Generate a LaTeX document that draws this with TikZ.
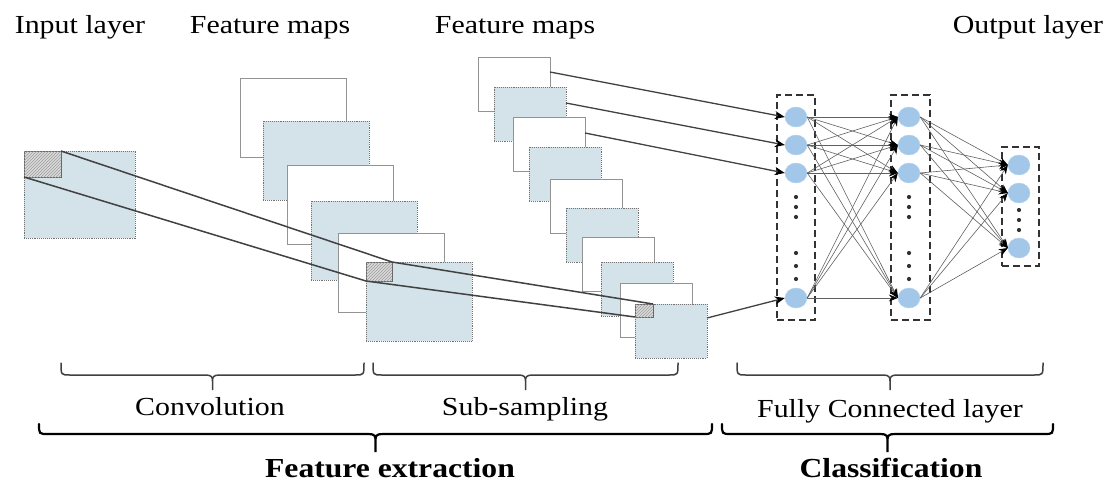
\documentclass[tikz,border=0pt]{standalone}
\usepackage{fontspec}
\setmainfont[FakeStretch=1.15]{Liberation Serif}
\usetikzlibrary{arrows.meta,patterns,shapes.geometric}
\definecolor{mapblue}{RGB}{212,226,233}
\definecolor{nodeblue}{RGB}{163,199,232}
\definecolor{linegray}{RGB}{65,65,65}
% custom brace: #1 style, #2 x-left, #3 x-right, #4 y tips, #5 y line, #6 y cusp
\newcommand\cnnbrace[6]{%
  \pgfmathsetmacro\bc{(#2+#3)/2}%
  \draw[#1] (#2,-#4) .. controls (#2,-#5) and (#2,-#5) .. (#2+9,-#5)
     -- (\bc-7,-#5) .. controls (\bc-1,-#5) and (\bc,-#5-2) .. (\bc,-#5-6)
     -- (\bc,-#6) -- (\bc,-#5-6)
     .. controls (\bc,-#5-2) and (\bc+1,-#5) .. (\bc+7,-#5)
     -- (#3-9,-#5) .. controls (#3,-#5) and (#3,-#5) .. (#3,-#4);%
}
\begin{document}
\begin{tikzpicture}[x=1pt,y=1pt,
  whitemap/.style={draw=gray!85, line width=0.9pt, fill=white, anchor=north west, inner sep=0pt, outer sep=0pt},
  bluemap/.style={draw=gray!90!black, densely dotted, line width=0.9pt, fill=mapblue, anchor=north west, inner sep=0pt, outer sep=0pt},
  convsize/.style={minimum width=106pt, minimum height=79pt},
  subsize/.style={minimum width=72pt, minimum height=54pt},
  hatchbox/.style={draw=gray!80!black, line width=0.7pt, fill=gray!30, anchor=north west, inner sep=0pt, outer sep=0pt,
     postaction={pattern=north east lines, pattern color=gray!75}},
  featline/.style={draw=linegray, line width=1.5pt, line join=round},
  dbox/.style={draw=black!80, line width=1.6pt, dash pattern=on 7pt off 4pt, anchor=north west, inner sep=0pt, outer sep=0pt},
  neuron/.style={ellipse, minimum width=22pt, minimum height=20pt, inner sep=0pt, fill=nodeblue, draw=nodeblue!80!white},
  fcarrow/.style={draw=gray!75!black, line width=0.6pt, -{Stealth[length=9pt,width=7pt,black]}},
  inarrow/.style={draw=linegray, line width=1.3pt, -{Stealth[length=10pt,width=8pt,black]}},
  lbl/.style={font=\fontsize{26}{30}\selectfont, anchor=base, inner sep=0pt},
  blbl/.style={font=\fontsize{27.5}{32}\selectfont\bfseries, anchor=base, inner sep=0pt},
  sbrace/.style={draw=black!75, line width=1.5pt, line cap=round},
  bbrace/.style={draw=black, line width=2.2pt, line cap=round},
  dot/.style={fill=black!80}
]
\useasboundingbox (0,0) rectangle (1111,-482);

% input layer
\node[bluemap, minimum width=111pt, minimum height=87pt] (inp) at (24,-151) {};
\node[hatchbox, minimum width=37pt, minimum height=26pt] (inph) at (24,-151) {};

% convolution feature maps
\node[whitemap,convsize] (c1) at (240,-78) {};
\node[bluemap,convsize]  (c2) at (263,-121) {};
\node[whitemap,convsize] (c3) at (287,-165) {};
\node[bluemap,convsize]  (c4) at (311,-201) {};
\node[whitemap,convsize] (c5) at (338,-233) {};
\node[bluemap,convsize]  (c6) at (366,-262) {};
\node[hatchbox, minimum width=26pt, minimum height=19pt] (c6h) at (366,-262) {};

% sub-sampling feature maps
\node[whitemap,subsize] (s1) at (478,-57) {};
\node[bluemap,subsize]  (s2) at (494,-87) {};
\node[whitemap,subsize] (s3) at (513,-117) {};
\node[bluemap,subsize]  (s4) at (529,-147) {};
\node[whitemap,subsize] (s5) at (550,-179) {};
\node[bluemap,subsize]  (s6) at (566,-208) {};
\node[whitemap,subsize] (s7) at (582,-237) {};
\node[bluemap,subsize]  (s8) at (601,-262) {};
\node[whitemap,subsize] (s9) at (620,-283) {};
\node[bluemap,subsize]  (s10) at (635,-304) {};
\node[hatchbox, minimum width=18pt, minimum height=13pt] (s10h) at (635,-304) {};

% receptive field lines
\draw[featline] (inph.north east) -- (c6h.north east) -- (s10h.north east);
\draw[featline] (inph.south west) -- (c6h.south west) -- (s10h.south west);

% fully connected boxes
\node[dbox, minimum width=38pt, minimum height=225pt] (fc1) at (777,-95) {};
\node[dbox, minimum width=39pt, minimum height=225pt] (fc2) at (891,-95) {};
\node[dbox, minimum width=37pt, minimum height=119pt] (outb) at (1002,-147) {};

% neurons
\node[neuron] (a1) at (796,-117) {};
\node[neuron] (a2) at (796,-145) {};
\node[neuron] (a3) at (796,-173) {};
\node[neuron] (a4) at (796,-298) {};
\node[neuron] (b1) at (909,-117) {};
\node[neuron] (b2) at (909,-145) {};
\node[neuron] (b3) at (909,-173) {};
\node[neuron] (b4) at (909,-298) {};
\node[neuron] (o1) at (1019,-165) {};
\node[neuron] (o2) at (1019,-193) {};
\node[neuron] (o3) at (1019,-248) {};

% ellipsis dots
\foreach \x in {796,909}{
  \foreach \y in {197,207,217,253,266,279}{
    \fill[dot] (\x,-\y) circle (2.1pt);
  }
}
\foreach \y in {210,220,230}{ \fill[dot] (1019,-\y) circle (2.1pt); }

% connections
\foreach \i in {1,2,3,4}{
  \foreach \j in {1,2,3,4}{
    \draw[fcarrow] (a\i.east) -- (b\j.west);
  }
}
\foreach \i in {1,2,3,4}{
  \foreach \j in {1,2,3}{
    \draw[fcarrow] (b\i.east) -- (o\j.west);
  }
}

% sub-sampling to FC
\draw[inarrow] ([yshift=-15pt]s1.north east) -- (a1.west);
\draw[inarrow] ([yshift=-16pt]s2.north east) -- (a2.west);
\draw[inarrow] ([yshift=-16pt]s3.north east) -- (a3.west);
\draw[inarrow] ([yshift=-14pt]s10.north east) -- (a4.west);

% braces
\cnnbrace{sbrace}{61}{364}{363}{375}{390}
\cnnbrace{sbrace}{373}{678}{363}{375}{390}
\cnnbrace{sbrace}{737}{1043}{363}{375}{390}
\cnnbrace{bbrace}{39}{712}{424}{434}{452}
\cnnbrace{bbrace}{722}{1053}{424}{434}{452}

% labels
\node[lbl] (tin) at (80,-33) {Input layer};
\node[lbl] (tfm1) at (270,-33) {Feature maps};
\node[lbl] (tfm2) at (515,-33) {Feature maps};
\node[lbl] (tout) at (1028,-33) {Output layer};
\node[lbl] (tconv) at (210,-415) {Convolution};
\node[lbl] (tsub) at (525,-415) {Sub-sampling};
\node[lbl] (tfc) at (890,-417) {Fully Connected layer};
\node[blbl] (tfe) at (390,-477) {Feature extraction};
\node[blbl] (tcl) at (891,-477) {Classification};
\end{tikzpicture}
\end{document}
